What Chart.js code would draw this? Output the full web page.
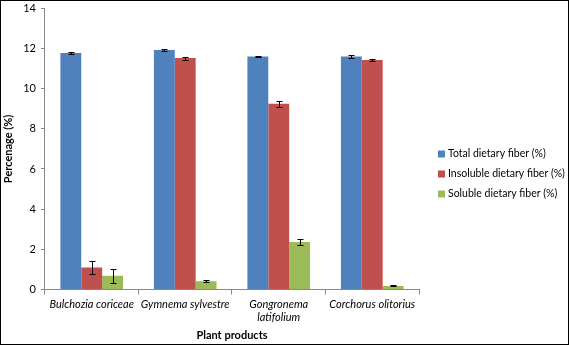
<!DOCTYPE html>
<html><head><meta charset="utf-8">
<script src="https://cdn.jsdelivr.net/npm/chart.js@4.4.0/dist/chart.umd.min.js"></script>
<style>html,body{margin:0;padding:0;background:#fff}canvas{display:block}</style>
</head><body>
<canvas id="c" width="569" height="345"></canvas>
<script>
const categories = ["Bulchozia coriceae", "Gymnema sylvestre", ["Gongronema", "latifolium"], "Corchorus olitorius"];
const seriesNames = ["Total dietary fiber (%)", "Insoluble dietary fiber (%)", "Soluble dietary fiber (%)"];
const totalFiber = [11.77, 11.92, 11.6, 11.6];
const insolubleFiber = [1.1, 11.52, 9.25, 11.42];
const solubleFiber = [0.68, 0.41, 2.37, 0.18];
const totalErr = [0.03, 0.04, 0.03, 0.07];
const insolubleErr = [0.33, 0.07, 0.14, 0.06];
const solubleErr = [0.35, 0.05, 0.13, 0.03];
const yTicks = [0, 2, 4, 6, 8, 10, 12, 14];
const colors = ["#4F81BD", "#C0504D", "#9BBB59"];

const FONT = "Lato, 'Open Sans', sans-serif";

const errorBars = {
  id: 'errorBars',
  afterDatasetsDraw(chart) {
    const ctx = chart.ctx;
    const y = chart.scales.y;
    ctx.save();
    ctx.strokeStyle = '#000';
    ctx.lineWidth = 1;
    chart.data.datasets.forEach((ds, i) => {
      const meta = chart.getDatasetMeta(i);
      meta.data.forEach((bar, j) => {
        const v = ds.data[j], e = ds.errors[j];
        const x = Math.round(bar.x) + 0.5;
        const yt = Math.round(y.getPixelForValue(v + e)) + 0.5, yb = Math.round(y.getPixelForValue(v - e)) + 0.5;
        ctx.beginPath();
        ctx.moveTo(x, yt); ctx.lineTo(x, yb);
        ctx.moveTo(x - 3, yt); ctx.lineTo(x + 3, yt);
        ctx.moveTo(x - 3, yb); ctx.lineTo(x + 3, yb);
        ctx.stroke();
      });
    });
    ctx.restore();
  }
};
const sideLegend = {
  id: 'sideLegend',
  afterDraw(chart) {
    const ctx = chart.ctx;
    const a = chart.chartArea;
    const x0 = a.right + 19;
    const rowH = 20;
    const yc = 174;
    ctx.save();
    ctx.font = "10.5px " + FONT;
    ctx.textBaseline = 'middle';
    ctx.fillStyle = '#000';
    chart.data.datasets.forEach((ds, i) => {
      const yy = yc + (i - 1) * rowH;
      ctx.fillStyle = ds.backgroundColor;
      ctx.fillRect(x0, yy - 3.5, 7, 7);
      ctx.fillStyle = '#000';
      ctx.fillText(ds.label, x0 + 10, yy);
    });
    ctx.restore();
  }
};
const frame = {
  id: 'frame',
  afterDraw(chart) {
    const ctx = chart.ctx;
    ctx.save();
    ctx.strokeStyle = '#000';
    ctx.lineWidth = 1;
    ctx.strokeRect(0.5, 0.5, chart.width - 1, chart.height - 1);
    ctx.restore();
  }
};

new Chart(document.getElementById('c'), {
  type: 'bar',
  data: {
    labels: categories,
    datasets: [
      { label: seriesNames[0], data: totalFiber, errors: totalErr, backgroundColor: colors[0] },
      { label: seriesNames[1], data: insolubleFiber, errors: insolubleErr, backgroundColor: colors[1] },
      { label: seriesNames[2], data: solubleFiber, errors: solubleErr, backgroundColor: colors[2] }
    ]
  },
  options: {
    responsive: false,
    animation: false,
    devicePixelRatio: 1,
    datasets: { bar: { categoryPercentage: 0.67, barPercentage: 1.0 } },
    layout: { padding: { top: 0, left: 2, right: 150, bottom: 3 } },
    plugins: {
      legend: { display: false },
      tooltip: { enabled: false }
    },
    scales: {
      x: {
        grid: { drawOnChartArea: false, drawTicks: true, tickLength: 5, color: '#888', offset: true },
        border: { display: true, color: '#888' },
        ticks: { color: '#000', font: { family: FONT, size: 11, style: 'italic', lineHeight: 1.15 }, maxRotation: 0, autoSkip: false, padding: 4 },
        title: { display: true, text: 'Plant products', color: '#000', font: { family: FONT, size: 11, weight: 'bold', lineHeight: 1.2 }, padding: { top: 1, bottom: 0 } }
      },
      y: {
        min: 0, max: 14,
        afterBuildTicks(scale) { scale.ticks = yTicks.map(v => ({ value: v })); },
        grid: { drawOnChartArea: false, drawTicks: true, tickLength: 4, color: '#888' },
        border: { display: true, color: '#888' },
        ticks: { color: '#000', font: { family: FONT, size: 11, lineHeight: 0.6 }, padding: 5 },
        title: { display: true, text: 'Percenage (%)', color: '#000', font: { family: FONT, size: 11, weight: 'bold' }, padding: { top: 0, bottom: 3 } }
      }
    }
  },
  plugins: [errorBars, sideLegend, frame]
});
</script>
</body></html>
